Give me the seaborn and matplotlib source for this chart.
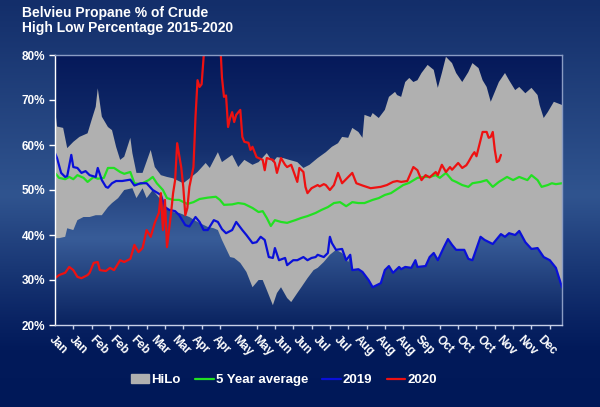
import numpy as np
import pandas as pd
import seaborn as sns
import matplotlib
matplotlib.use('Agg')
import matplotlib.pyplot as plt
from matplotlib.colors import LinearSegmentedColormap
from matplotlib.patches import Patch
from matplotlib.lines import Line2D

# trading-day index (0..249) and percent values
hilo_high_days = [0, 1, 4, 6, 9, 12, 16, 18, 20, 21, 23, 26, 28, 30, 32, 34, 37, 38, 40, 43, 47, 49, 52, 55, 58,
                  63, 67, 70, 74, 76, 80, 82, 87, 90, 93, 97, 100, 104, 107, 109, 112, 115, 119, 122, 125, 129,
                  133, 136, 139, 141, 144, 146, 149, 151, 152, 155, 156, 159, 162, 164, 167, 168, 170, 172, 174,
                  176, 178, 180, 183, 186, 188, 190, 192, 195, 197, 200, 203, 205, 208, 210, 212, 214, 216, 218,
                  221, 223, 226, 228, 231, 234, 237, 238, 240, 242, 245, 249]
hilo_high = [68.2, 64.1, 63.8, 59.3, 60.7, 61.8, 62.6, 65.6, 68.5, 72.6, 66.3, 64.0, 63.3, 59.6, 56.7, 57.4, 61.6,
             58.2, 53.8, 53.8, 58.9, 55.1, 53.3, 52.9, 52.6, 51.5, 52.9, 54.0, 56.0, 54.9, 58.4, 56.2, 57.8, 55.1,
             56.7, 55.6, 56.2, 58.2, 56.2, 57.3, 57.1, 56.7, 56.2, 54.9, 55.6, 57.1, 58.4, 59.6, 60.4, 61.8, 61.6,
             63.8, 62.9, 61.6, 66.7, 66.2, 67.1, 66.0, 67.8, 70.7, 71.8, 71.1, 70.7, 74.0, 74.9, 74.0, 74.4, 76.0,
             77.8, 76.7, 72.7, 76.0, 79.6, 78.2, 76.0, 74.0, 76.2, 78.2, 77.1, 74.4, 72.9, 69.6, 71.8, 74.0, 76.0,
             74.4, 72.2, 72.9, 71.5, 72.7, 71.1, 68.9, 66.0, 67.3, 69.6, 68.9]

# low edge up to mid-year; after that the 2019 line is the low
hilo_low_days = [0, 2, 5, 6, 9, 11, 14, 17, 20, 23, 26, 28, 31, 34, 38, 40, 43, 45, 48, 52, 55, 58, 61, 66, 70,
                 75, 78, 80, 82, 86, 88, 91, 94, 97, 100, 102, 104, 107, 109, 111, 114, 116, 119, 121, 124, 127,
                 129, 132, 135, 138, 141, 144]
hilo_low = [39.3, 39.3, 39.6, 41.5, 41.1, 43.3, 44.0, 44.0, 44.4, 44.4, 46.2, 47.1, 48.2, 50.0, 50.4, 48.2, 50.4,
            48.2, 50.0, 47.8, 46.0, 45.1, 44.9, 44.0, 42.9, 41.8, 41.5, 41.1, 38.9, 35.1, 34.9, 33.8, 31.8, 28.4,
            30.0, 30.0, 27.8, 24.4, 27.1, 28.4, 26.0, 25.1, 27.1, 28.4, 30.4, 32.2, 32.7, 34.0, 35.6, 36.7, 36.0,
            34.0]

avg5_days = [0, 2, 5, 7, 9, 11, 14, 16, 19, 21, 24, 26, 29, 32, 34, 37, 39, 42, 46, 48, 50, 53, 55, 58, 61, 65,
             68, 71, 75, 79, 81, 83, 87, 90, 93, 97, 100, 102, 104, 106, 108, 111, 114, 118, 121, 124, 128, 131,
             134, 137, 140, 143, 146, 149, 152, 156, 159, 162, 165, 168, 171, 174, 178, 181, 184, 187, 189, 192,
             195, 197, 200, 203, 205, 209, 212, 215, 218, 222, 225, 228, 232, 234, 237, 239, 242, 244, 246, 249]
avg5 = [53.8, 52.7, 52.4, 52.9, 52.4, 53.3, 52.7, 51.8, 52.9, 52.5, 52.7, 54.9, 54.9, 54.0, 53.6, 54.0, 51.5, 51.3,
        52.2, 52.9, 51.5, 50.0, 48.2, 47.8, 47.8, 46.9, 47.3, 48.0, 48.3, 48.5, 47.8, 46.7, 46.8, 47.1, 46.9, 46.0,
        45.1, 45.3, 43.8, 42.0, 43.3, 42.9, 42.7, 43.3, 43.8, 44.2, 44.9, 45.6, 46.2, 47.1, 47.3, 46.4, 47.3, 47.1,
        47.1, 47.8, 48.2, 48.9, 49.3, 50.2, 51.1, 51.6, 52.7, 52.9, 52.9, 53.3, 52.7, 53.8, 52.2, 51.8, 51.1, 50.7,
        51.5, 51.8, 52.2, 50.7, 51.8, 52.9, 52.2, 52.9, 52.2, 53.3, 52.2, 50.7, 51.1, 51.5, 51.3, 51.5]

y2019_days = [0, 1, 3, 5, 6, 8, 9, 11, 13, 15, 17, 20, 21, 23, 25, 26, 28, 30, 33, 37, 39, 42, 45, 48, 52, 54, 56,
              59, 61, 64, 66, 69, 71, 73, 75, 78, 80, 82, 84, 87, 89, 92, 94, 97, 99, 101, 103, 105, 107, 108, 110,
              113, 114, 117, 119, 122, 124, 126, 128, 129, 132, 134, 135, 136, 138, 141, 143, 145, 146, 149, 151,
              154, 156, 160, 162, 164, 166, 169, 170, 172, 175, 177, 178, 182, 184, 186, 188, 191, 193, 195, 197,
              201, 203, 205, 209, 211, 215, 217, 219, 221, 223, 226, 228, 231, 234, 237, 240, 243, 246, 249]
y2019 = [58.2, 57.1, 53.8, 52.9, 53.1, 57.8, 55.1, 54.9, 53.8, 54.2, 53.3, 52.9, 54.9, 52.2, 50.7, 50.5, 51.5, 52.0,
         52.0, 52.3, 51.0, 51.5, 51.5, 50.0, 48.9, 46.2, 45.6, 45.3, 44.4, 42.2, 41.9, 44.0, 42.9, 41.1, 41.1, 43.3,
         42.9, 41.3, 40.4, 41.1, 42.9, 41.1, 40.0, 38.2, 38.4, 39.6, 38.9, 35.1, 34.9, 37.1, 34.4, 34.9, 33.3, 34.4,
         34.4, 35.1, 34.4, 34.9, 35.1, 35.6, 35.1, 36.0, 39.6, 38.2, 36.7, 36.9, 34.4, 35.6, 32.2, 32.4, 31.8, 30.0,
         28.4, 29.3, 32.2, 33.1, 31.6, 32.9, 32.4, 32.9, 32.7, 34.4, 32.9, 33.1, 35.1, 36.0, 34.4, 37.3, 39.1, 37.8,
         36.7, 36.7, 34.7, 34.4, 39.6, 38.9, 38.0, 39.1, 40.2, 39.6, 40.4, 40.0, 40.9, 38.4, 36.9, 37.1, 35.1, 34.4,
         32.7, 28.4]

y2020_days = [0, 2, 5, 7, 9, 11, 13, 16, 17, 19, 21, 22, 25, 27, 29, 32, 34, 37, 39, 41, 43, 45, 47, 49, 51, 52,
              53, 54, 55, 57, 58, 59, 60, 62, 63, 64, 65, 66, 68, 69, 70, 71, 72, 73, 74, 77, 80, 81, 82, 83, 84,
              85, 86, 87, 88, 89, 91, 92, 93, 95, 96, 97, 99, 102, 103, 104, 107, 108, 109, 111, 113, 114, 116,
              119, 120, 122, 123, 124, 126, 129, 130, 132, 133, 135, 137, 139, 141, 146, 148, 151, 155, 160, 163,
              166, 168, 170, 173, 176, 178, 180, 182, 184, 187, 188, 190, 192, 194, 195, 198, 200, 202, 203, 205,
              206, 207, 209, 210, 212, 213, 214, 215, 216, 217, 218, 219]
y2020 = [30.4, 31.1, 31.6, 32.9, 32.2, 30.7, 30.4, 31.1, 31.6, 33.8, 34.0, 32.2, 32.0, 32.7, 32.2, 34.4, 34.0, 34.7,
         37.8, 36.2, 37.1, 41.1, 39.6, 42.7, 44.9, 49.3, 41.1, 47.8, 37.3, 44.9, 49.3, 52.2, 60.4, 55.0, 50.7, 44.4,
         46.0, 50.7, 55.1, 66.2, 74.4, 72.9, 73.5, 79.6, 85.0, 90.0, 88.0, 84.0, 75.0, 70.7, 71.0, 64.0, 66.0, 67.3,
         65.1, 66.7, 67.8, 61.8, 60.7, 60.5, 58.9, 59.6, 57.3, 56.7, 54.4, 57.1, 56.7, 56.0, 53.8, 57.1, 55.6, 55.1,
         55.6, 51.8, 54.9, 54.0, 50.7, 49.3, 50.4, 51.1, 50.8, 51.3, 51.1, 50.0, 51.1, 53.8, 51.5, 53.8, 51.5, 51.0,
         50.4, 50.7, 51.1, 51.8, 52.0, 51.8, 52.0, 55.1, 54.4, 52.2, 53.3, 52.8, 54.0, 53.3, 55.6, 54.0, 55.1, 54.5,
         56.0, 54.9, 55.5, 56.2, 57.8, 58.4, 57.5, 61.1, 62.9, 62.9, 61.6, 61.8, 62.9, 58.9, 56.2, 56.5, 57.8]

month_labels = ['Jan', 'Jan', 'Feb', 'Feb', 'Feb', 'Mar', 'Mar', 'Apr', 'Apr', 'May', 'May', 'Jun', 'Jun',
                'Jul', 'Jul', 'Aug', 'Aug', 'Aug', 'Sep', 'Oct', 'Oct', 'Oct', 'Nov', 'Nov', 'Dec']

sns.set_theme(style='white')
plt.rcParams['font.family'] = ['Liberation Sans', 'DejaVu Sans']
plt.rcParams['font.weight'] = 'bold'

fig = plt.figure(figsize=(6, 4.07), dpi=100)

# figure background gradient
bg = fig.add_axes([0, 0, 1, 1], zorder=-10)
bg_cmap = LinearSegmentedColormap.from_list('bg', [(0, '#132e6a'), (0.48, '#30548f'), (0.78, '#0a2464'),
                                                   (0.86, '#021a5a'), (1, '#001858')])
bg.imshow(np.linspace(0, 1, 256)[:, None], cmap=bg_cmap, aspect='auto', extent=[0, 1, 0, 1], origin='upper')
bg.axis('off')

ax = fig.add_axes([55 / 600, 1 - 325 / 407, 507 / 600, 270 / 407])
ax.set_facecolor('none')
ax_cmap = LinearSegmentedColormap.from_list('ax', [(0, '#05195a'), (0.35, '#15306e'), (0.68, '#385c98'),
                                                   (1, '#0a2360')])
ax.imshow(np.linspace(0, 1, 256)[:, None], cmap=ax_cmap, aspect='auto', extent=[0, 249, 20, 80],
          origin='upper', zorder=0)

# HiLo band as one polygon: top edge then bottom edge back
low_days = hilo_low_days + [d for d in y2019_days if d > hilo_low_days[-1]]
low_vals = hilo_low + [v for d, v in zip(y2019_days, y2019) if d > hilo_low_days[-1]]
ax.fill(hilo_high_days + low_days[::-1], hilo_high + low_vals[::-1], color='#b0b0b0', lw=0, zorder=1)

df5 = pd.DataFrame({'day': avg5_days, 'pct': avg5})
sns.lineplot(data=df5, x='day', y='pct', ax=ax, color='#22e022', lw=1.6, estimator=None, sort=False, zorder=2)
df19 = pd.DataFrame({'day': y2019_days, 'pct': y2019})
sns.lineplot(data=df19, x='day', y='pct', ax=ax, color='#0a10d8', lw=1.6, estimator=None, sort=False, zorder=3)
df20 = pd.DataFrame({'day': y2020_days, 'pct': y2020})
sns.lineplot(data=df20, x='day', y='pct', ax=ax, color='#ee1111', lw=1.6, estimator=None, sort=False, zorder=4)

ax.set_xlim(0, 249)
ax.set_ylim(20, 80)
ax.set_xlabel('')
ax.set_ylabel('')
ax.grid(False)

ax.set_yticks(range(20, 81, 10))
ax.set_yticklabels([f'{v}%' for v in range(20, 81, 10)], fontsize=8.5, fontweight='bold', color='white')
ax.set_xticks(range(0, 250, 10))
ax.set_xticklabels(month_labels, rotation=-45, ha='left', va='top', rotation_mode='anchor',
                   fontsize=8.5, fontweight='bold', color='white')
ax.set_xticks(range(0, 250, 9), minor=True)
ax.tick_params(axis='x', which='major', length=0, pad=6)
ax.tick_params(axis='x', which='minor', length=3, width=1, color='#c8d0e8', direction='out', bottom=True)
ax.tick_params(axis='y', length=4, width=1, color='white', direction='out', left=True, pad=3)

ax.spines['left'].set_color('white')
ax.spines['bottom'].set_color('#c8d0e8')
ax.spines['top'].set_color('#8a9cc4')
ax.spines['right'].set_color('#8a9cc4')
for s in ax.spines.values():
    s.set_linewidth(1)
    s.set_zorder(5)

fig.text(22 / 600, 1 - 6 / 407, 'Belvieu Propane % of Crude\nHigh Low Percentage 2015-2020',
         ha='left', va='top', fontsize=10, fontweight='bold', color='white', linespacing=1.1)

handles = [Patch(color='#b0b0b0', label='HiLo'),
           Line2D([], [], color='#22e022', lw=1.6, label='5 Year average'),
           Line2D([], [], color='#0a10d8', lw=1.6, label='2019'),
           Line2D([], [], color='#ee1111', lw=1.6, label='2020')]
leg = fig.legend(handles=handles, loc='center', bbox_to_anchor=(0.473, 0.066), ncol=4, frameon=False,
                 prop={'size': 9.5, 'weight': 'bold'}, handlelength=1.4, handletextpad=0.15, columnspacing=1.1,
                 handleheight=0.6)
for t in leg.get_texts():
    t.set_color('white')

fig.savefig('out.png', dpi=100)
